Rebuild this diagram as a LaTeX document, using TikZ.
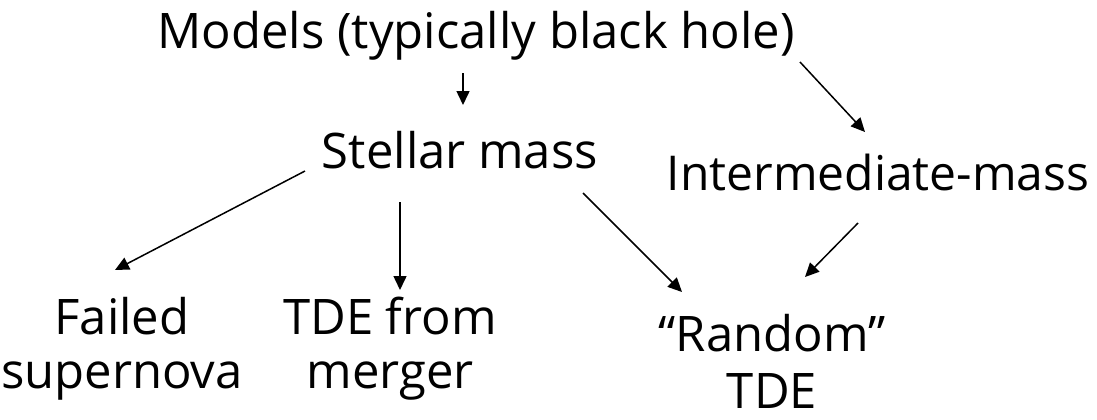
\documentclass[tikz,border=0pt]{standalone}
\usepackage{fontspec}
\setmainfont{Open Sans}
\usetikzlibrary{calc,arrows.meta}

\begin{document}
\begin{tikzpicture}[x=0.5pt,y=-0.5pt,
        lbl/.style={inner sep=0pt, anchor=base, align=center, font=\fontsize{24.5}{27}\selectfont},
        arr/.style={-{Triangle[length=7pt,width=6.5pt]}, line width=0.75pt}
    ]
    \useasboundingbox (0,0) rectangle (1097,419);

    % Nodes
    \node[lbl] (models) at (476,48) {Models (typically black hole)};
    \node[lbl] (stellar) at (460,168) {Stellar mass};
    \node[lbl, font=\fontsize{24}{27}\selectfont] (imbh) at (878,190) {Intermediate-mass};

    \node[lbl] (failed) at (122,388) {Failed\\supernova};
    \node[lbl] (merger) at (390,388) {TDE from\\merger};
    \node[lbl, font=\fontsize{24.5}{28.5}\selectfont] (random) at (772,408) {``Random''\\TDE};

    % Edges
    \draw[arr] ($(models.base)+(-13,25)$) -- ($(stellar.base)+(3,-63)$);
    \draw[arr] ($(models.base)+(324,14)$) -- ($(imbh.base)+(-13,-58)$);

    \draw[arr] ($(stellar.base)+(-155,3)$) -- ($(failed.base)+(-7,-118)$);
    \draw[arr] ($(stellar.base)+(-60,34)$) -- ($(merger.base)+(10,-98)$);
    \draw[arr] ($(stellar.base)+(123,25)$) -- ($(random.base)+(-90,-116)$);

    \draw[arr] ($(imbh.base)+(-20,33)$) -- ($(random.base)+(33,-131)$);
\end{tikzpicture}
\end{document}
